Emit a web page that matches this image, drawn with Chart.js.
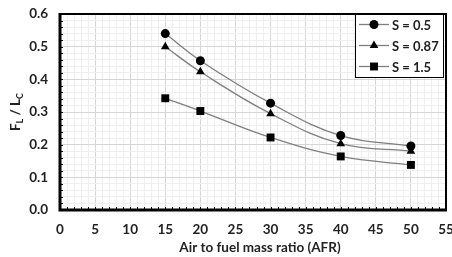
<!DOCTYPE html>
<html>
<head>
<meta charset="utf-8">
<script src="https://cdn.jsdelivr.net/npm/chart.js@4"></script>
<style>
  html, body { margin: 0; padding: 0; background: #fff; }
  #wrap { width: 452px; height: 257px; }
</style>
</head>
<body>
<div id="wrap"><canvas id="chart" width="452" height="257"></canvas></div>
<script>
// data
const afr = [15, 20, 30, 40, 50];
const s05 = [0.54, 0.457, 0.327, 0.228, 0.196];
const s087 = [0.50, 0.423, 0.295, 0.203, 0.180];
const s15 = [0.342, 0.303, 0.222, 0.164, 0.138];
const seriesNames = ['S = 0.5', 'S = 0.87', 'S = 1.5'];
const seriesMarkers = ['circle', 'triangle', 'rect'];
const xTicks = [0, 5, 10, 15, 20, 25, 30, 35, 40, 45, 50, 55];
const yTicks = [0.0, 0.1, 0.2, 0.3, 0.4, 0.5, 0.6];

const FONT = 'Lato';

function points(ys) {
  return afr.map((x, i) => ({ x: x, y: ys[i] }));
}

function isMajor(v, step) {
  const r = v / step;
  return Math.abs(r - Math.round(r)) < 1e-6;
}

function makeSet(label, ys, marker, radius) {
  return {
    label: label,
    data: points(ys),
    borderColor: '#7f7f7f',
    borderWidth: 1.3,
    backgroundColor: '#000',
    pointBackgroundColor: '#000',
    pointBorderColor: '#000',
    pointBorderWidth: 0,
    pointStyle: marker,
    pointRadius: radius,
    tension: 0.4
  };
}

// frame, inner tick marks, axis titles and legend
const decor = {
  id: 'decor',
  afterDatasetsDraw(chart) {
    const ctx = chart.ctx;
    const a = chart.chartArea;
    const xs = chart.scales.x, ys = chart.scales.y;
    ctx.save();
    ctx.strokeStyle = '#000';
    ctx.lineWidth = 2;
    ctx.strokeRect(a.left, a.top, a.right - a.left, a.bottom - a.top);
    // inner tick marks
    ctx.lineWidth = 1;
    ctx.beginPath();
    xs.ticks.forEach(t => {
      const px = Math.round(xs.getPixelForValue(t.value)) + 0.5;
      ctx.moveTo(px, a.bottom);
      ctx.lineTo(px, a.bottom - 3);
    });
    ys.ticks.forEach(t => {
      const py = Math.round(ys.getPixelForValue(t.value)) + 0.5;
      ctx.moveTo(a.left, py);
      ctx.lineTo(a.left + 3, py);
    });
    ctx.stroke();
    ctx.lineWidth = 3;
    ctx.beginPath();
    ctx.moveTo(a.left, a.top - 1);
    ctx.lineTo(a.left, a.bottom);
    ctx.lineTo(a.right + 1, a.bottom);
    ctx.stroke();

    // x title
    ctx.fillStyle = '#222';
    ctx.font = 'bold 13.5px ' + FONT;
    ctx.textAlign = 'center';
    ctx.textBaseline = 'middle';
    ctx.fillText('Air to fuel mass ratio (AFR)', 260, 248);

    // y title with subscripts
    ctx.save();
    ctx.translate(16, (a.top + a.bottom) / 2);
    ctx.rotate(-Math.PI / 2);
    ctx.textAlign = 'left';
    ctx.textBaseline = 'middle';
    const parts = [['F', 13.5, 0], ['L', 9, 4], [' / L', 13.5, 0], ['C', 9, 4]];
    let w = 0;
    parts.forEach(p => { ctx.font = 'bold ' + p[1] + 'px ' + FONT; w += ctx.measureText(p[0]).width; });
    let cx = -w / 2;
    parts.forEach(p => {
      ctx.font = 'bold ' + p[1] + 'px ' + FONT;
      ctx.fillText(p[0], cx, p[2]);
      cx += ctx.measureText(p[0]).width;
    });
    ctx.restore();

    // legend box
    const bx = 355, by = a.top, bw = 88, bh = 63;
    ctx.fillStyle = '#fff';
    ctx.fillRect(bx, by, bw, bh);
    ctx.lineWidth = 1;
    ctx.strokeStyle = '#000';
    ctx.strokeRect(bx + 0.5, by + 0.5, bw, bh);
    chart.data.datasets.forEach((ds, i) => {
      const rowY = by + 10.5 + i * 21;
      ctx.strokeStyle = '#7f7f7f';
      ctx.lineWidth = 1.3;
      ctx.beginPath();
      ctx.moveTo(359, rowY);
      ctx.lineTo(389, rowY);
      ctx.stroke();
      ctx.fillStyle = '#000';
      Chart.helpers.drawPoint(ctx, { pointStyle: ds.pointStyle, radius: ds.pointRadius, borderWidth: 0 }, 374, rowY);
      ctx.font = 'bold 13px ' + FONT;
      ctx.textAlign = 'left';
      ctx.fillStyle = '#222';
      ctx.fillText(ds.label, 392, rowY + 1);
    });
    ctx.restore();
  }
};

new Chart(document.getElementById('chart'), {
  type: 'line',
  data: {
    datasets: [
      makeSet(seriesNames[0], s05, seriesMarkers[0], 4.5),
      makeSet(seriesNames[1], s087, seriesMarkers[1], 5),
      makeSet(seriesNames[2], s15, seriesMarkers[2], 5.6)
    ]
  },
  options: {
    responsive: false,
    animation: false,
    layout: { padding: { top: 14, right: 6, left: 0, bottom: 0 } },
    plugins: { legend: { display: false }, tooltip: { enabled: false } },
    scales: {
      x: {
        type: 'linear',
        min: xTicks[0],
        max: xTicks[xTicks.length - 1],
        border: { display: false },
        grid: {
          drawTicks: false,
          lineWidth: 1,
          color: c => isMajor(c.tick.value, 5) ? '#d6d6d6' : '#efefef'
        },
        ticks: {
          stepSize: 1,
          autoSkip: false,
          maxRotation: 0,
          padding: 12,
          color: '#222',
          font: { family: FONT, size: 13.5, weight: 'bold' },
          callback: v => xTicks.includes(v) ? String(v) : ''
        },
        afterFit: s => { s.height = 47; s.paddingRight = 0; s.paddingLeft = 0; }
      },
      y: {
        min: yTicks[0],
        max: yTicks[yTicks.length - 1],
        border: { display: false },
        grid: {
          drawTicks: false,
          lineWidth: 1,
          color: c => isMajor(c.tick.value, 0.1) ? '#d6d6d6' : '#efefef'
        },
        ticks: {
          stepSize: 0.02,
          autoSkip: false,
          padding: 12,
          color: '#222',
          font: { family: FONT, size: 13.5, weight: 'bold' },
          callback: v => isMajor(v, 0.1) ? v.toFixed(1) : ''
        },
        afterFit: s => { s.width = 60; s.paddingTop = 0; s.paddingBottom = 0; }
      }
    }
  },
  plugins: [decor]
});
</script>
</body>
</html>
